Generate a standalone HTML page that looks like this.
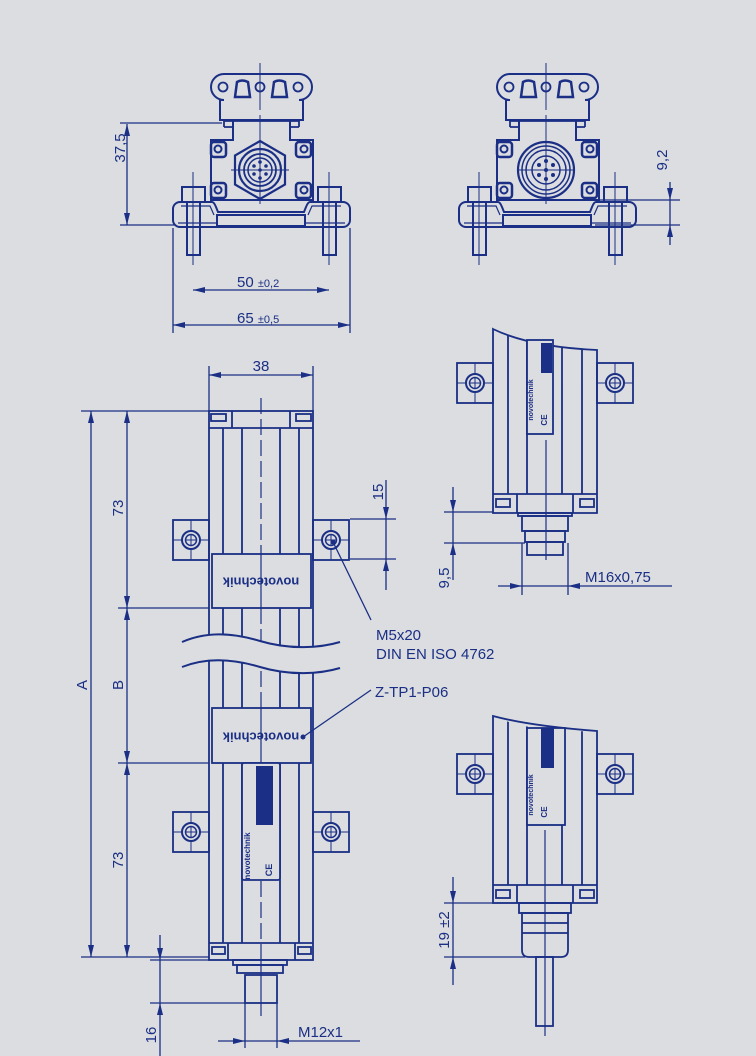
<!DOCTYPE html>
<html><head><meta charset="utf-8"><style>
html,body{margin:0;padding:0;background:#dcdde0;}
svg{display:block;}
text{font-family:"Liberation Sans",sans-serif;fill:#1a2f85;}
</style></head><body>
<svg width="756" height="1056" viewBox="0 0 756 1056" xmlns="http://www.w3.org/2000/svg">
<defs>
<marker id="ar" markerWidth="12" markerHeight="6" refX="12" refY="3" orient="auto-start-reverse" markerUnits="userSpaceOnUse"><path d="M0,0 L12,3 L0,6 z" fill="#1a2f85"/></marker>
<g id="tab" fill="none" stroke="#1a2f85">
<rect x="-18" y="-20" width="36" height="40" stroke-width="1.8"/>
<circle r="9" stroke-width="2"/><circle r="5.5" stroke-width="1.5"/>
<path d="M-6,0H6M0,-6V6M-18,0H-9M9,0H18M0,-20V-9M0,9V20" stroke-width="1"/>
</g>
<g id="topcommon" fill="none" stroke="#1a2f85" stroke-width="2">
<path d="M224,74 H299 A13,13 0 0 1 299,100 H303 V120 H220 V100 H224 A13,13 0 0 1 224,74 Z"/>
<circle cx="223" cy="87" r="4.5" stroke-width="1.8"/><circle cx="260" cy="87" r="4.5" stroke-width="1.8"/><circle cx="298" cy="87" r="4.5" stroke-width="1.8"/>
<path d="M235,97 L237,82 Q242,79 248,82 L250,97 Z M272,97 L274,82 Q279,79 285,82 L287,97 Z" stroke-width="2.5"/>
<path d="M224,127 V121 H299 V127 M224,127 H233 M290,127 H299" stroke-width="1.8"/>
<path d="M233,121 V140 H211 V200 H313 V140 H290 V121"/>
<rect x="211" y="142" width="15" height="15" rx="3" stroke-width="2.5"/><circle cx="218" cy="149" r="3.5"/>
<rect x="296" y="142" width="15" height="15" rx="3" stroke-width="2.5"/><circle cx="304" cy="149" r="3.5"/>
<rect x="211" y="183" width="15" height="15" rx="3" stroke-width="2.5"/><circle cx="218" cy="190" r="3.5"/>
<rect x="296" y="183" width="15" height="15" rx="3" stroke-width="2.5"/><circle cx="304" cy="190" r="3.5"/>
<path d="M180,202 H212 Q214,202 216,207 L218,212 H304 L306,207 Q308,202 310,202 H343 A7,7 0 0 1 350,209 V220 A7,7 0 0 1 343,227 H180 A7,7 0 0 1 173,220 V209 A7,7 0 0 1 180,202 Z" fill="#dcdde0"/>
<path d="M181,206 H210 L214,215 M341,206 H312 L308,215 M178,223 H345" stroke-width="1.2"/>
<rect x="217" y="215" width="88" height="11" fill="#dcdde0"/>
<rect x="182" y="187" width="23" height="15" fill="#dcdde0"/><rect x="187" y="202" width="13" height="53"/>
<rect x="318" y="187" width="23" height="15" fill="#dcdde0"/><rect x="323" y="202" width="13" height="53"/>
<path d="M193,172 V265 M329,172 V265" stroke-width="1"/>
<path d="M260,63 V110 M260,115 V204 M231,170 H289" stroke-width="1"/>
</g>
</defs>
<rect width="756" height="1056" fill="#dcdde0"/>
<g fill="none" stroke="#1a2f85">
<!-- top views -->
<use href="#topcommon"/>
<path d="M260,141 L285,155.5 L285,184.5 L260,199 L235,184.5 L235,155.5 Z" stroke-width="2.2"/>
<circle cx="260" cy="170" r="21" stroke-width="2.2"/><circle cx="260" cy="170" r="16" stroke-width="1.8"/><circle cx="260" cy="170" r="12" stroke-width="1.5"/>
<g fill="#1a2f85" stroke="none"><circle cx="260" cy="162" r="1.8"/><circle cx="266" cy="166" r="1.8"/><circle cx="266" cy="174" r="1.8"/><circle cx="260" cy="178" r="1.8"/><circle cx="254" cy="174" r="1.8"/><circle cx="254" cy="166" r="1.8"/><circle cx="260" cy="170" r="1.8"/></g>
<g transform="translate(286,0)"><use href="#topcommon"/>
<circle cx="260" cy="170" r="28" stroke-width="2.2"/><circle cx="260" cy="170" r="24" stroke-width="1.5"/><circle cx="260" cy="170" r="20" stroke-width="1.5"/><circle cx="260" cy="170" r="14" stroke-width="1.5"/>
<g fill="#1a2f85" stroke="none"><circle cx="260" cy="161" r="2"/><circle cx="267" cy="165" r="2"/><circle cx="267" cy="175" r="2"/><circle cx="260" cy="179" r="2"/><circle cx="253" cy="175" r="2"/><circle cx="253" cy="165" r="2"/><circle cx="260" cy="170" r="2"/></g>
</g>
<!-- top dims -->
<g stroke-width="1.3">
<path d="M120,123 H222 M120,225 H175 M173,228 V333 M350,228 V333 M590,200 H680 M595,225 H680"/>
<line x1="127" y1="124" x2="127" y2="225" marker-start="url(#ar)" marker-end="url(#ar)"/>
<line x1="193" y1="290" x2="329" y2="290" marker-start="url(#ar)" marker-end="url(#ar)"/>
<line x1="173" y1="325" x2="350" y2="325" marker-start="url(#ar)" marker-end="url(#ar)"/>
<line x1="670" y1="182" x2="670" y2="200" marker-end="url(#ar)"/>
<line x1="670" y1="245" x2="670" y2="225" marker-end="url(#ar)"/>
<line x1="670" y1="200" x2="670" y2="225"/>
</g>
<!-- main body -->
<g stroke-width="1.8">
<rect x="209" y="411" width="104" height="549"/>
<path d="M223,428 V943 M242,428 V943 M280,428 V943 M299,428 V943"/>
<path d="M209,428 H313 M232,411 V428 M290,411 V428 M209,943 H313 M228,943 V960 M295,943 V960"/>
<rect x="211" y="414" width="15" height="7"/><rect x="296" y="414" width="15" height="7"/>
<rect x="212" y="947" width="13" height="7"/><rect x="298" y="947" width="13" height="7"/>
</g>
<path d="M261,398 V960" stroke-width="1.2" stroke-dasharray="16,5"/>
<!-- break -->
<path d="M182,642 C205,632 230,632 260,641 C290,650 320,648 340,642 L340,668 C320,674 290,676 260,667 C230,658 205,658 182,667 Z" fill="#dcdde0" stroke="none"/>
<path d="M182,642 C205,632 230,632 260,641 C290,650 320,648 340,642 M182,667 C205,658 230,658 260,667 C290,676 320,674 340,668" stroke-width="2"/>
<!-- plates -->
<rect x="212" y="554" width="99" height="54" fill="#dcdde0" stroke-width="1.8"/>
<rect x="212" y="708" width="99" height="55" fill="#dcdde0" stroke-width="1.8"/>
<path d="M261,554 V608 M261,708 V763" stroke-width="1.2"/>
<text x="261" y="581" transform="rotate(180 261 581)" text-anchor="middle" dominant-baseline="middle" font-size="13" font-weight="bold" stroke="none">novotechnik</text>
<text x="261" y="736" transform="rotate(180 261 736)" text-anchor="middle" dominant-baseline="middle" font-size="13" font-weight="bold" stroke="none">novotechnik</text>
<!-- bottom label -->
<rect x="242" y="763" width="38" height="117" fill="#dcdde0" stroke-width="1.8" rx="2"/>
<rect x="256" y="766" width="17" height="59" fill="#1a2f85" stroke="none"/>
<text x="250" y="856" transform="rotate(-90 250 856)" text-anchor="middle" font-size="8" font-weight="bold" stroke="none">novotechnik</text>
<text x="272" y="870" transform="rotate(-90 272 870)" text-anchor="middle" font-size="9" font-weight="bold" stroke="none">CE</text>
<!-- tabs -->
<use href="#tab" x="191" y="540"/><use href="#tab" x="331" y="540"/>
<use href="#tab" x="191" y="832"/><use href="#tab" x="331" y="832"/>
<!-- bottom connector -->
<g stroke-width="1.8">
<rect x="233" y="960" width="54" height="5"/><rect x="237" y="965" width="46" height="8"/><rect x="245" y="975" width="32" height="28"/>
</g>
<path d="M261,960 V1016" stroke-width="1.2"/>
<!-- main dims -->
<g stroke-width="1.3">
<path d="M209,366 V411 M313,366 V411 M81,411 H209 M81,957 H209 M118,608 H209 M118,763 H209 M150,960 H210 M150,1003 H245 M245,1003 V1048 M277,1003 V1048 M350,519 H396 M350,559 H396"/>
<line x1="209" y1="375" x2="313" y2="375" marker-start="url(#ar)" marker-end="url(#ar)"/>
<line x1="91" y1="411" x2="91" y2="957" marker-start="url(#ar)" marker-end="url(#ar)"/>
<line x1="127" y1="411" x2="127" y2="608" marker-start="url(#ar)" marker-end="url(#ar)"/>
<line x1="127" y1="608" x2="127" y2="763" marker-start="url(#ar)" marker-end="url(#ar)"/>
<line x1="127" y1="763" x2="127" y2="957" marker-start="url(#ar)" marker-end="url(#ar)"/>
<line x1="160" y1="935" x2="160" y2="960" marker-end="url(#ar)"/>
<line x1="160" y1="1056" x2="160" y2="1003" marker-end="url(#ar)"/>
<line x1="160" y1="960" x2="160" y2="1003"/>
<line x1="218" y1="1041" x2="245" y2="1041" marker-end="url(#ar)"/>
<line x1="360" y1="1041" x2="277" y2="1041" marker-end="url(#ar)"/>
<line x1="245" y1="1041" x2="277" y2="1041"/>
<line x1="386" y1="480" x2="386" y2="519" marker-end="url(#ar)"/>
<line x1="386" y1="590" x2="386" y2="559" marker-end="url(#ar)"/>
<line x1="386" y1="519" x2="386" y2="559"/>
<!-- leaders -->
<line x1="334" y1="544" x2="371" y2="620"/>
<line x1="303" y1="737" x2="371" y2="690"/>
</g>
<circle cx="333" cy="542" r="2.5" fill="#1a2f85" stroke="none"/>
<circle cx="303" cy="737" r="2.5" fill="#1a2f85" stroke="none"/>
<!-- right middle view -->
<clipPath id="c1"><path d="M493,329 Q530,347 597,350 V494 H493 Z"/></clipPath>
<g stroke-width="1.8">
<path d="M493,329 Q530,347 597,350 V513 H493 Z"/>
<g clip-path="url(#c1)"><path d="M508,320 V494 M527,320 V494 M562,320 V494 M582,320 V494"/></g>
<path d="M493,494 H597 M517,494 V513 M573,494 V513"/>
<rect x="496" y="499" width="14" height="8"/><rect x="580" y="499" width="14" height="8"/>
<rect x="518" y="513" width="54" height="3"/><rect x="522" y="516" width="46" height="15"/><rect x="525" y="531" width="40" height="11"/><rect x="527" y="542" width="36" height="13"/>
<rect x="527" y="340" width="26" height="94" fill="#dcdde0"/>
</g>
<rect x="541" y="343" width="11" height="30" fill="#1a2f85" stroke="none"/>
<text x="533" y="400" transform="rotate(-90 533 400)" text-anchor="middle" font-size="7" font-weight="bold" stroke="none">novotechnik</text>
<text x="547" y="420" transform="rotate(-90 547 420)" text-anchor="middle" font-size="8" font-weight="bold" stroke="none">CE</text>
<path d="M546,440 V560" stroke-width="1.2"/>
<use href="#tab" x="475" y="383"/><use href="#tab" x="615" y="383"/>
<g stroke-width="1.3">
<path d="M444,512 H493 M444,543 H525 M522,543 V595 M568,543 V595"/>
<line x1="453" y1="487" x2="453" y2="512" marker-end="url(#ar)"/>
<line x1="453" y1="580" x2="453" y2="543" marker-end="url(#ar)"/>
<line x1="453" y1="512" x2="453" y2="543"/>
<line x1="498" y1="586" x2="522" y2="586" marker-end="url(#ar)"/>
<line x1="672" y1="586" x2="568" y2="586" marker-end="url(#ar)"/>
<line x1="522" y1="586" x2="568" y2="586"/>
</g>
<!-- right bottom view -->
<clipPath id="c2"><path d="M493,716 Q530,733 597,731 V885 H493 Z"/></clipPath>
<g stroke-width="1.8">
<path d="M493,716 Q530,726 597,731 V903 H493 Z"/>
<g clip-path="url(#c2)"><path d="M508,700 V885 M527,700 V885 M562,700 V885 M582,700 V885"/></g>
<path d="M493,885 H597 M517,885 V903 M573,885 V903"/>
<rect x="496" y="890" width="14" height="8"/><rect x="580" y="890" width="14" height="8"/>
<rect x="519" y="903" width="52" height="10"/>
<path d="M522,913 H568 V950 Q568,957 561,957 H529 Q522,957 522,950 Z M522,923 H568 M522,933 H568"/>
<rect x="536" y="957" width="17" height="69"/>
<rect x="527" y="728" width="38" height="97" fill="#dcdde0"/>
</g>
<rect x="541" y="728" width="13" height="40" fill="#1a2f85" stroke="none"/>
<text x="533" y="795" transform="rotate(-90 533 795)" text-anchor="middle" font-size="7" font-weight="bold" stroke="none">novotechnik</text>
<text x="547" y="812" transform="rotate(-90 547 812)" text-anchor="middle" font-size="8" font-weight="bold" stroke="none">CE</text>
<path d="M545,830 V1036" stroke-width="1.2"/>
<use href="#tab" x="475" y="774"/><use href="#tab" x="615" y="774"/>
<g stroke-width="1.3">
<path d="M444,903 H519 M444,957 H525"/>
<line x1="453" y1="877" x2="453" y2="903" marker-end="url(#ar)"/>
<line x1="453" y1="985" x2="453" y2="957" marker-end="url(#ar)"/>
<line x1="453" y1="903" x2="453" y2="957"/>
</g>
</g>
<!-- texts -->
<g font-size="15">
<text x="125" y="148" transform="rotate(-90 125 148)" text-anchor="middle">37,5</text>
<text x="237" y="287">50 <tspan font-size="11">±0,2</tspan></text>
<text x="237" y="323">65 <tspan font-size="11">±0,5</tspan></text>
<text x="667" y="160" transform="rotate(-90 667 160)" text-anchor="middle">9,2</text>
<text x="261" y="371" text-anchor="middle">38</text>
<text x="123" y="508" transform="rotate(-90 123 508)" text-anchor="middle">73</text>
<text x="123" y="860" transform="rotate(-90 123 860)" text-anchor="middle">73</text>
<text x="123" y="685" transform="rotate(-90 123 685)" text-anchor="middle">B</text>
<text x="87" y="685" transform="rotate(-90 87 685)" text-anchor="middle">A</text>
<text x="383" y="492" transform="rotate(-90 383 492)" text-anchor="middle">15</text>
<text x="449" y="578" transform="rotate(-90 449 578)" text-anchor="middle">9,5</text>
<text x="449" y="930" transform="rotate(-90 449 930)" text-anchor="middle">19 ±2</text>
<text x="156" y="1035" transform="rotate(-90 156 1035)" text-anchor="middle">16</text>
<text x="585" y="582">M16x0,75</text>
<text x="298" y="1037">M12x1</text>
<text x="376" y="640">M5x20</text>
<text x="376" y="659">DIN EN ISO 4762</text>
<text x="375" y="697">Z-TP1-P06</text>
</g>
</svg>
</body></html>
